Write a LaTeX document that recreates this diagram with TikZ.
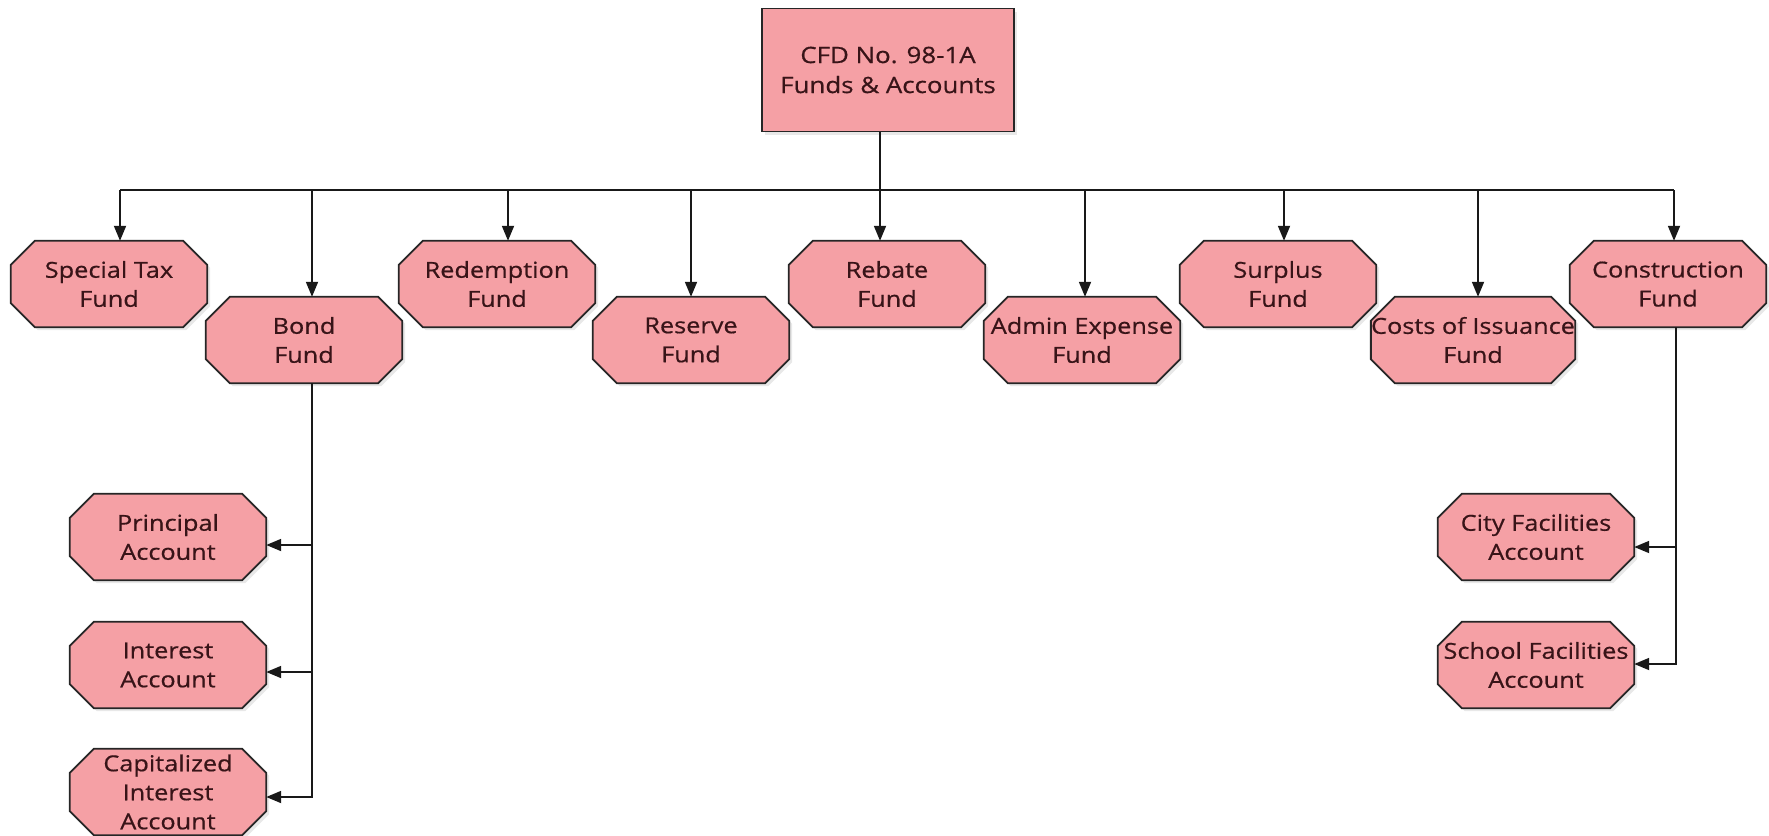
\documentclass[tikz,border=0pt]{standalone}
\usepackage{fontspec}
\setmainfont{Open Sans}[FakeStretch=1.15,FakeBold=0.6]
\usetikzlibrary{shadows,arrows.meta,backgrounds}
\definecolor{fundpink}{RGB}{245,160,165}
\definecolor{fundtext}{RGB}{56,20,24}
\tikzset{
  boxshadow/.style={drop shadow={shadow xshift=3pt,shadow yshift=-3pt,opacity=.18}},
  link/.style={line width=1.8pt,draw=black!90},
  fundbox/.style={rectangle,minimum width=196pt,minimum height=86pt,inner sep=0pt,align=center,
    text=fundtext,font=\fontsize{22}{29}\selectfont},
  octline/.style={draw=black!85,line width=1.8pt,fill=fundpink,boxshadow},
  headbox/.style={rectangle,draw=black!85,line width=1.8pt,fill=fundpink,minimum width=252pt,
    minimum height=123pt,inner sep=0pt,align=center,text=fundtext,
    font=\fontsize{22.5}{30}\selectfont,boxshadow}
}
\begin{document}
\begin{tikzpicture}[x=1pt,y=-1pt,>={Triangle[length=15pt,width=12pt]}]
    \useasboundingbox (0,0) rectangle (1769,835);
    % Head box
    \node[headbox] (cfd) at (888,70) {CFD No. 98-1A\\Funds \& Accounts};
    % Funds, two staggered rows
    \node[fundbox] (stf) at (109,284) {Special Tax\\Fund};
    \node[fundbox] (bondf) at (304,340) {Bond\\Fund};
    \node[fundbox] (redf) at (497,284) {Redemption\\Fund};
    \node[fundbox] (resf) at (691,340) {Reserve\\Fund};
    \node[fundbox] (rebf) at (887,284) {Rebate\\Fund};
    \node[fundbox] (admf) at (1082,340) {Admin Expense\\Fund};
    \node[fundbox] (surf) at (1278,284) {Surplus\\Fund};
    \node[fundbox] (cosf) at (1473,340) {Costs of Issuance\\Fund};
    \node[fundbox] (conf) at (1668,284) {Construction\\Fund};
    % Accounts
    \node[fundbox] (princ) at (168,537) {Principal\\Account};
    \node[fundbox] (inter) at (168,665) {Interest\\Account};
    \node[fundbox] (capint) at (168,792) {Capitalized\\Interest\\Account};
    \node[fundbox] (city) at (1536,537) {City Facilities\\Account};
    \node[fundbox] (school) at (1536,665) {School Facilities\\Account};
    % Octagon outlines behind the texts
    \begin{pgfonlayer}{background}
        \foreach \n in {stf,bondf,redf,resf,rebf,admf,surf,cosf,conf,princ,inter,capint,city,school}
            \path[octline] ([xshift=24pt]\n.north west) -- ([xshift=-24pt]\n.north east)
                -- ([yshift=-24pt]\n.north east) -- ([yshift=24pt]\n.south east)
                -- ([xshift=-24pt]\n.south east) -- ([xshift=24pt]\n.south west)
                -- ([yshift=24pt]\n.south west) -- ([yshift=-24pt]\n.north west) -- cycle;
    \end{pgfonlayer}
    % Bus from head box to the funds
    \coordinate (bus) at (0,190);
    \path ([xshift=-8pt]cfd.south) coordinate (stem);
    \draw[link] (stem) -- (stem |- bus);
    \foreach \n/\dx in {stf/11,bondf/8,redf/11,resf/0,rebf/-7,admf/3,surf/6,cosf/5,conf/6}{
        \path ([xshift=\dx pt]\n.north) coordinate (tip-\n);
        \draw[link,->] (tip-\n |- bus) -- (tip-\n);
    }
    \draw[link] (tip-stf |- bus) -- (tip-conf |- bus);
    % Bond Fund accounts
    \path ([xshift=8pt]bondf.south) coordinate (bondtrunk);
    \foreach \n/\dy in {princ/-8,inter/-7,capint/-5}
        \draw[link,->] (bondtrunk) |- ([yshift=\dy pt]\n.east);
    % Construction Fund accounts
    \path ([xshift=8pt]conf.south) coordinate (contrunk);
    \foreach \n/\dy in {city/-10,school/1}
        \draw[link,->] (contrunk) |- ([yshift=\dy pt]\n.east);
\end{tikzpicture}
\end{document}
